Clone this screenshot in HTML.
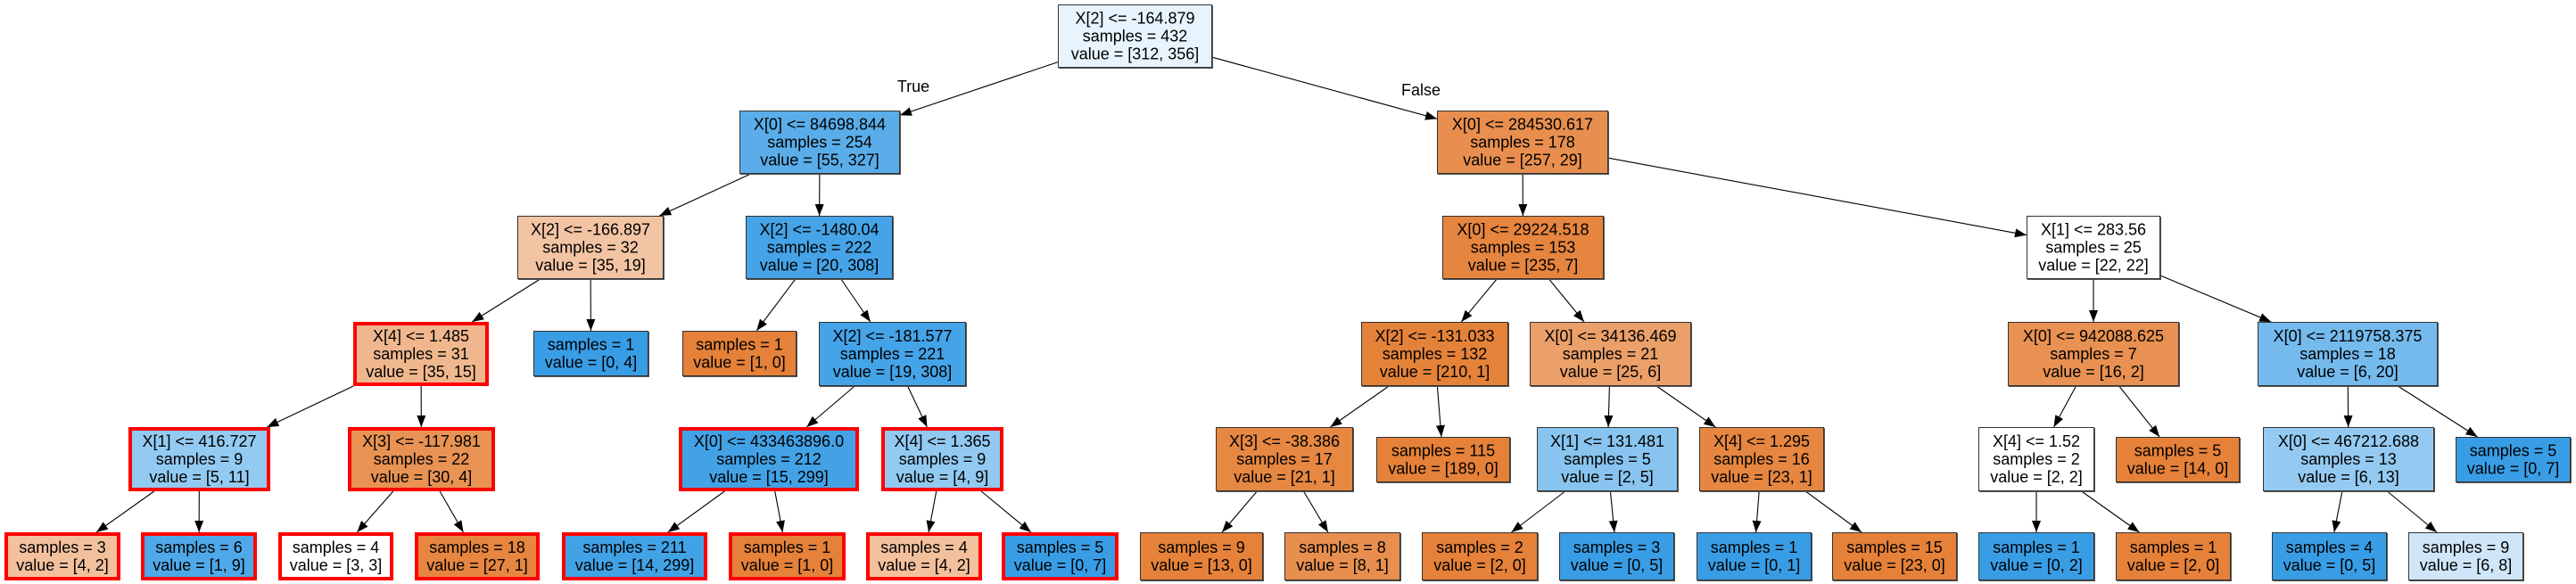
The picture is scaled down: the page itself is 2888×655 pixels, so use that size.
<!DOCTYPE html>
<html><head><meta charset="utf-8">
<style>
html,body{margin:0;padding:0;background:#fff;}
svg{display:block;}
text{font-family:"Liberation Sans",Arial,sans-serif;font-size:18px;fill:#000;}
</style></head>
<body>
<svg id="s" width="2888" height="655" xmlns="http://www.w3.org/2000/svg">
<defs>
<marker id="ah" markerWidth="13" markerHeight="10" refX="13" refY="5" orient="auto" markerUnits="userSpaceOnUse">
<path d="M0,0 L13,5 L0,10 Z" fill="#000"/>
</marker>
</defs>
<g id="edges"></g>
<g id="nodes"></g>
<text x="1024" y="103" text-anchor="middle">True</text>
<text x="1593" y="107" text-anchor="middle">False</text>
</svg>
<script>
var R0=[5,76],R1=[124,195],R2=[242,313],R3=[361,433],R3L=[371,422],R4=[479,551],R4L=[490,541],R5=[597,651];
var N={
root:[1186,1359,R0,["X[2] <= -164.879","samples = 432","value = [312, 356]"],"#e8f4fd",0],
a:[829,1009,R1,["X[0] <= 84698.844","samples = 254","value = [55, 327]"],"#5aade9",0],
b:[1611,1803,R1,["X[0] <= 284530.617","samples = 178","value = [257, 29]"],"#e88f4f",0],
a1:[580,744,R2,["X[2] <= -166.897","samples = 32","value = [35, 19]"],"#f3c4a3",0],
a2:[836,1001,R2,["X[2] <= -1480.04","samples = 222","value = [20, 308]"],"#46a3e7",0],
b1:[1617,1798,R2,["X[0] <= 29224.518","samples = 153","value = [235, 7]"],"#e6853f",0],
b2:[2272,2422,R2,["X[1] <= 283.56","samples = 25","value = [22, 22]"],"#ffffff",0],
a11:[396,548,R3,["X[4] <= 1.485","samples = 31","value = [35, 15]"],"#f0b78e",1],
a12:[598,727,R3L,["samples = 1","value = [0, 4]"],"#399de5",0],
a21:[765,893,R3L,["samples = 1","value = [1, 0]"],"#e58139",0],
a22:[918,1083,R3,["X[2] <= -181.577","samples = 221","value = [19, 308]"],"#45a3e7",0],
b11:[1526,1691,R3,["X[2] <= -131.033","samples = 132","value = [210, 1]"],"#e5823a",0],
b12:[1715,1896,R3,["X[0] <= 34136.469","samples = 21","value = [25, 6]"],"#eb9f69",0],
b21:[2251,2443,R3,["X[0] <= 942088.625","samples = 7","value = [16, 2]"],"#e89152",0],
b22:[2531,2733,R3,["X[0] <= 2119758.375","samples = 18","value = [6, 20]"],"#74baed",0],
c1:[144,303,R4,["X[1] <= 416.727","samples = 9","value = [5, 11]"],"#93caf1",1],
c2:[390,555,R4,["X[3] <= -117.981","samples = 22","value = [30, 4]"],"#e89253",1],
c3:[761,963,R4,["X[0] <= 433463896.0","samples = 212","value = [15, 299]"],"#43a2e6",1],
c4:[988,1125,R4,["X[4] <= 1.365","samples = 9","value = [4, 9]"],"#91c9f1",1],
c5:[1363,1517,R4,["X[3] <= -38.386","samples = 17","value = [21, 1]"],"#e68742",0],
c6:[1543,1693,R4L,["samples = 115","value = [189, 0]"],"#e58139",0],
c7:[1723,1881,R4,["X[1] <= 131.481","samples = 5","value = [2, 5]"],"#88c4ef",0],
c8:[1905,2045,R4,["X[4] <= 1.295","samples = 16","value = [23, 1]"],"#e68641",0],
c9:[2218,2348,R4,["X[4] <= 1.52","samples = 2","value = [2, 2]"],"#ffffff",0],
c10:[2372,2511,R4L,["samples = 5","value = [14, 0]"],"#e58139",0],
c11:[2537,2729,R4,["X[0] <= 467212.688","samples = 13","value = [6, 13]"],"#94caf1",0],
c12:[2753,2882,R4L,["samples = 5","value = [0, 7]"],"#399de5",0],
d1:[5,135,R5,["samples = 3","value = [4, 2]"],"#f2c09c",1],
d2:[158,288,R5,["samples = 6","value = [1, 9]"],"#4fa8e8",1],
d3:[312,441,R5,["samples = 4","value = [3, 3]"],"#ffffff",1],
d4:[465,605,R5,["samples = 18","value = [27, 1]"],"#e68640",1],
d5:[630,793,R5,["samples = 211","value = [14, 299]"],"#42a2e6",1],
d6:[817,948,R5,["samples = 1","value = [1, 0]"],"#e58139",1],
d7:[971,1101,R5,["samples = 4","value = [4, 2]"],"#f2c09c",1],
d8:[1123,1254,R5,["samples = 5","value = [0, 7]"],"#399de5",1],
d9:[1278,1416,R5,["samples = 9","value = [13, 0]"],"#e58139",0],
d10:[1440,1570,R5,["samples = 8","value = [8, 1]"],"#e88f4f",0],
d11:[1594,1724,R5,["samples = 2","value = [2, 0]"],"#e58139",0],
d12:[1748,1877,R5,["samples = 3","value = [0, 5]"],"#399de5",0],
d13:[1902,2031,R5,["samples = 1","value = [0, 1]"],"#399de5",0],
d14:[2054,2194,R5,["samples = 15","value = [23, 0]"],"#e58139",0],
d15:[2218,2348,R5,["samples = 1","value = [0, 2]"],"#399de5",0],
d16:[2372,2501,R5,["samples = 1","value = [2, 0]"],"#e58139",0],
d17:[2547,2676,R5,["samples = 4","value = [0, 5]"],"#399de5",0],
d18:[2700,2829,R5,["samples = 9","value = [6, 8]"],"#cee6f8",0]
};
var E=[["root","a"],["root","b"],["a","a1"],["a","a2"],["b","b1"],["b","b2"],
["a1","a11"],["a1","a12"],["a2","a21"],["a2","a22"],["b1","b11"],["b1","b12"],["b2","b21"],["b2","b22"],
["a11","c1"],["a11","c2"],["a22","c3"],["a22","c4"],["b11","c5"],["b11","c6"],["b12","c7"],["b12","c8"],
["b21","c9"],["b21","c10"],["b22","c11"],["b22","c12"],
["c1","d1"],["c1","d2"],["c2","d3"],["c2","d4"],["c3","d5"],["c3","d6"],["c4","d7"],["c4","d8"],
["c5","d9"],["c5","d10"],["c7","d11"],["c7","d12"],["c8","d13"],["c8","d14"],["c9","d15"],["c9","d16"],
["c11","d17"],["c11","d18"]];
var NS="http://www.w3.org/2000/svg";
function el(t,a){var e=document.createElementNS(NS,t);for(var k in a)e.setAttribute(k,a[k]);return e;}
var ng=document.getElementById("nodes"),eg=document.getElementById("edges");
function box(n){var d=N[n];return{x1:d[0],x2:d[1],y1:d[2][0],y2:d[2][1],cx:(d[0]+d[1])/2,cy:(d[2][0]+d[2][1])/2};}
function clip(b,px,py,dx,dy){
 var t=1e9;
 if(dx>0)t=Math.min(t,(b.x2-px)/dx);if(dx<0)t=Math.min(t,(b.x1-px)/dx);
 if(dy>0)t=Math.min(t,(b.y2-py)/dy);if(dy<0)t=Math.min(t,(b.y1-py)/dy);
 return[px+dx*t,py+dy*t];}
E.forEach(function(e){
 var p=box(e[0]),c=box(e[1]);
 var dx=c.cx-p.cx,dy=c.cy-p.cy;
 var s=clip(p,p.cx,p.cy,dx,dy),t=clip(c,c.cx,c.cy,-dx,-dy);
 eg.appendChild(el("line",{x1:s[0],y1:s[1],x2:t[0],y2:t[1],stroke:"#000","stroke-width":1.1,"marker-end":"url(#ah)"}));
});
for(var k in N){var d=N[k],b=box(k);
 if(d[5]){
  ng.appendChild(el("rect",{x:b.x1+2,y:b.y1+2,width:b.x2-b.x1-4,height:b.y2-b.y1-4,fill:d[4],stroke:"#ff0000","stroke-width":4}));
 }else{
  ng.appendChild(el("rect",{x:b.x1+1,y:b.y1+1,width:b.x2-b.x1,height:b.y2-b.y1,fill:"#555"}));
  ng.appendChild(el("rect",{x:b.x1+0.5,y:b.y1+0.5,width:b.x2-b.x1-1,height:b.y2-b.y1-1,fill:d[4],stroke:"#333","stroke-width":1}));
 }
 var L=d[3],n=L.length;
 for(var i=0;i<n;i++){
  var y=b.cy+(i-(n-1)/2)*20+6;
  var t=el("text",{x:b.cx,y:y,"text-anchor":"middle"});t.textContent=L[i];ng.appendChild(t);
 }
}
</script>
</body></html>
